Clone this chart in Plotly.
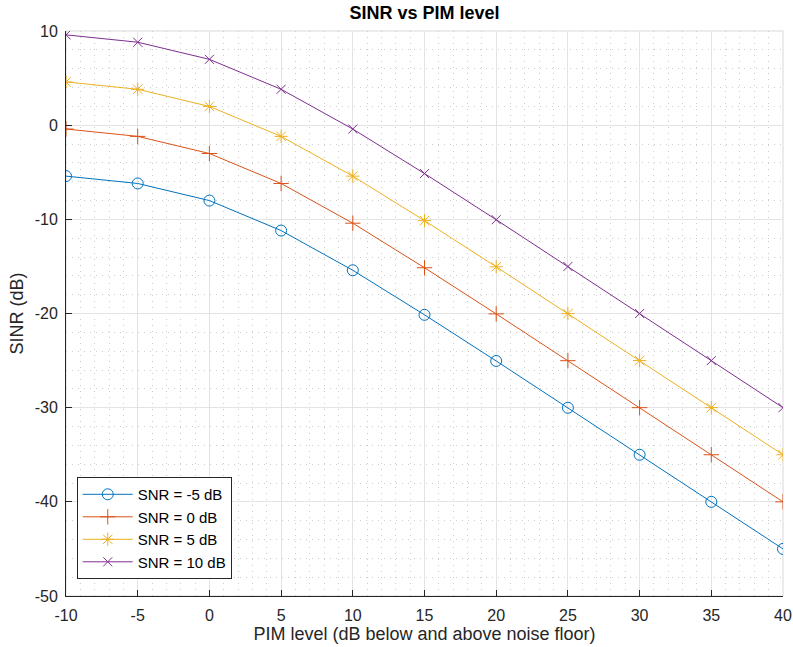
import plotly.graph_objects as go

# PIM level relative to the noise floor (dB)
pim_level = [-10, -5, 0, 5, 10, 15, 20, 25, 30, 35, 40]

# SINR curves (dB) for each SNR setting
sinr_snr_m5 = [-5.41, -6.19, -8.01, -11.19, -15.41, -20.14, -25.04, -30.01, -35.0, -40.0, -45.0]
sinr_snr_0 = [-0.41, -1.19, -3.01, -6.19, -10.41, -15.14, -20.04, -25.01, -30.0, -35.0, -40.0]
sinr_snr_5 = [4.59, 3.81, 1.99, -1.19, -5.41, -10.14, -15.04, -20.01, -25.0, -30.0, -35.0]
sinr_snr_10 = [9.59, 8.81, 6.99, 3.81, -0.41, -5.14, -10.04, -15.01, -20.0, -25.0, -30.0]

series_names = ["SNR = -5 dB", "SNR = 0 dB", "SNR = 5 dB", "SNR = 10 dB"]
x_ticks = [-10, -5, 0, 5, 10, 15, 20, 25, 30, 35, 40]
y_ticks = [-50, -40, -30, -20, -10, 0, 10]

colors = ["#0072BD", "#D95319", "#EDB120", "#7E2F8E"]
symbols = ["circle-open", "cross-thin-open", "asterisk-open", "x-thin-open"]
sizes = [11, 11, 11, 9]

fig = go.Figure()
for name, ys, c, s, sz in zip(series_names,
                              [sinr_snr_m5, sinr_snr_0, sinr_snr_5, sinr_snr_10],
                              colors, symbols, sizes):
    fig.add_trace(go.Scatter(
        x=pim_level, y=ys, name=name, mode="lines+markers",
        line=dict(color=c, width=1),
        marker=dict(symbol=s, size=sz, color=c, line=dict(color=c, width=1)),
    ))

family = "Liberation Sans, Arial, sans-serif"

fig.update_layout(
    width=793, height=647,
    margin=dict(l=66, r=10, t=31, b=51),
    paper_bgcolor="white", plot_bgcolor="white",
    font=dict(family=family, size=16, color="#262626"),
    title=dict(text="<b>SINR vs PIM level</b>", x=0.5, xref="paper", xanchor="center",
               y=0.981, yanchor="middle",
               font=dict(family=family, size=18, color="black")),
    showlegend=True,
    legend=dict(x=0.015, y=0.03, xanchor="left", yanchor="bottom",
                bgcolor="white", bordercolor="#262626", borderwidth=1,
                font=dict(size=15, color="black"), tracegroupgap=0,
                itemwidth=50),
    shapes=[dict(type="rect", xref="paper", yref="paper", x0=0, x1=1, y0=0, y1=1,
                 line=dict(color="#d9d9d9", width=1), layer="below")],
)

fig.update_xaxes(
    range=[-10, 40], tickvals=x_ticks, ticktext=[str(v) for v in x_ticks],
    automargin=False,
    showline=True, linecolor="#262626", linewidth=1,
    ticks="inside", ticklen=6, tickcolor="#262626",
    ticklabelstandoff=5,
    showgrid=True, gridcolor="#e3e3e3", gridwidth=1, zeroline=False,
    minor=dict(dtick=1, showgrid=True, gridcolor="#cccccc", griddash="1px,5px", ticks=""),
    title=dict(text="PIM level (dB below and above noise floor)", font=dict(size=18),
               standoff=4),
)
fig.update_yaxes(
    range=[-50, 10], tickvals=y_ticks, ticktext=[str(v) for v in y_ticks],
    automargin=False,
    showline=True, linecolor="#262626", linewidth=1,
    ticks="inside", ticklen=6, tickcolor="#262626",
    ticklabelstandoff=4,
    showgrid=True, gridcolor="#e3e3e3", gridwidth=1, zeroline=False,
    minor=dict(dtick=2, showgrid=True, gridcolor="#cccccc", griddash="1px,5px", ticks=""),
    title=dict(text="SINR (dB)", font=dict(size=18), standoff=6),
)

fig.write_html("out.html")
